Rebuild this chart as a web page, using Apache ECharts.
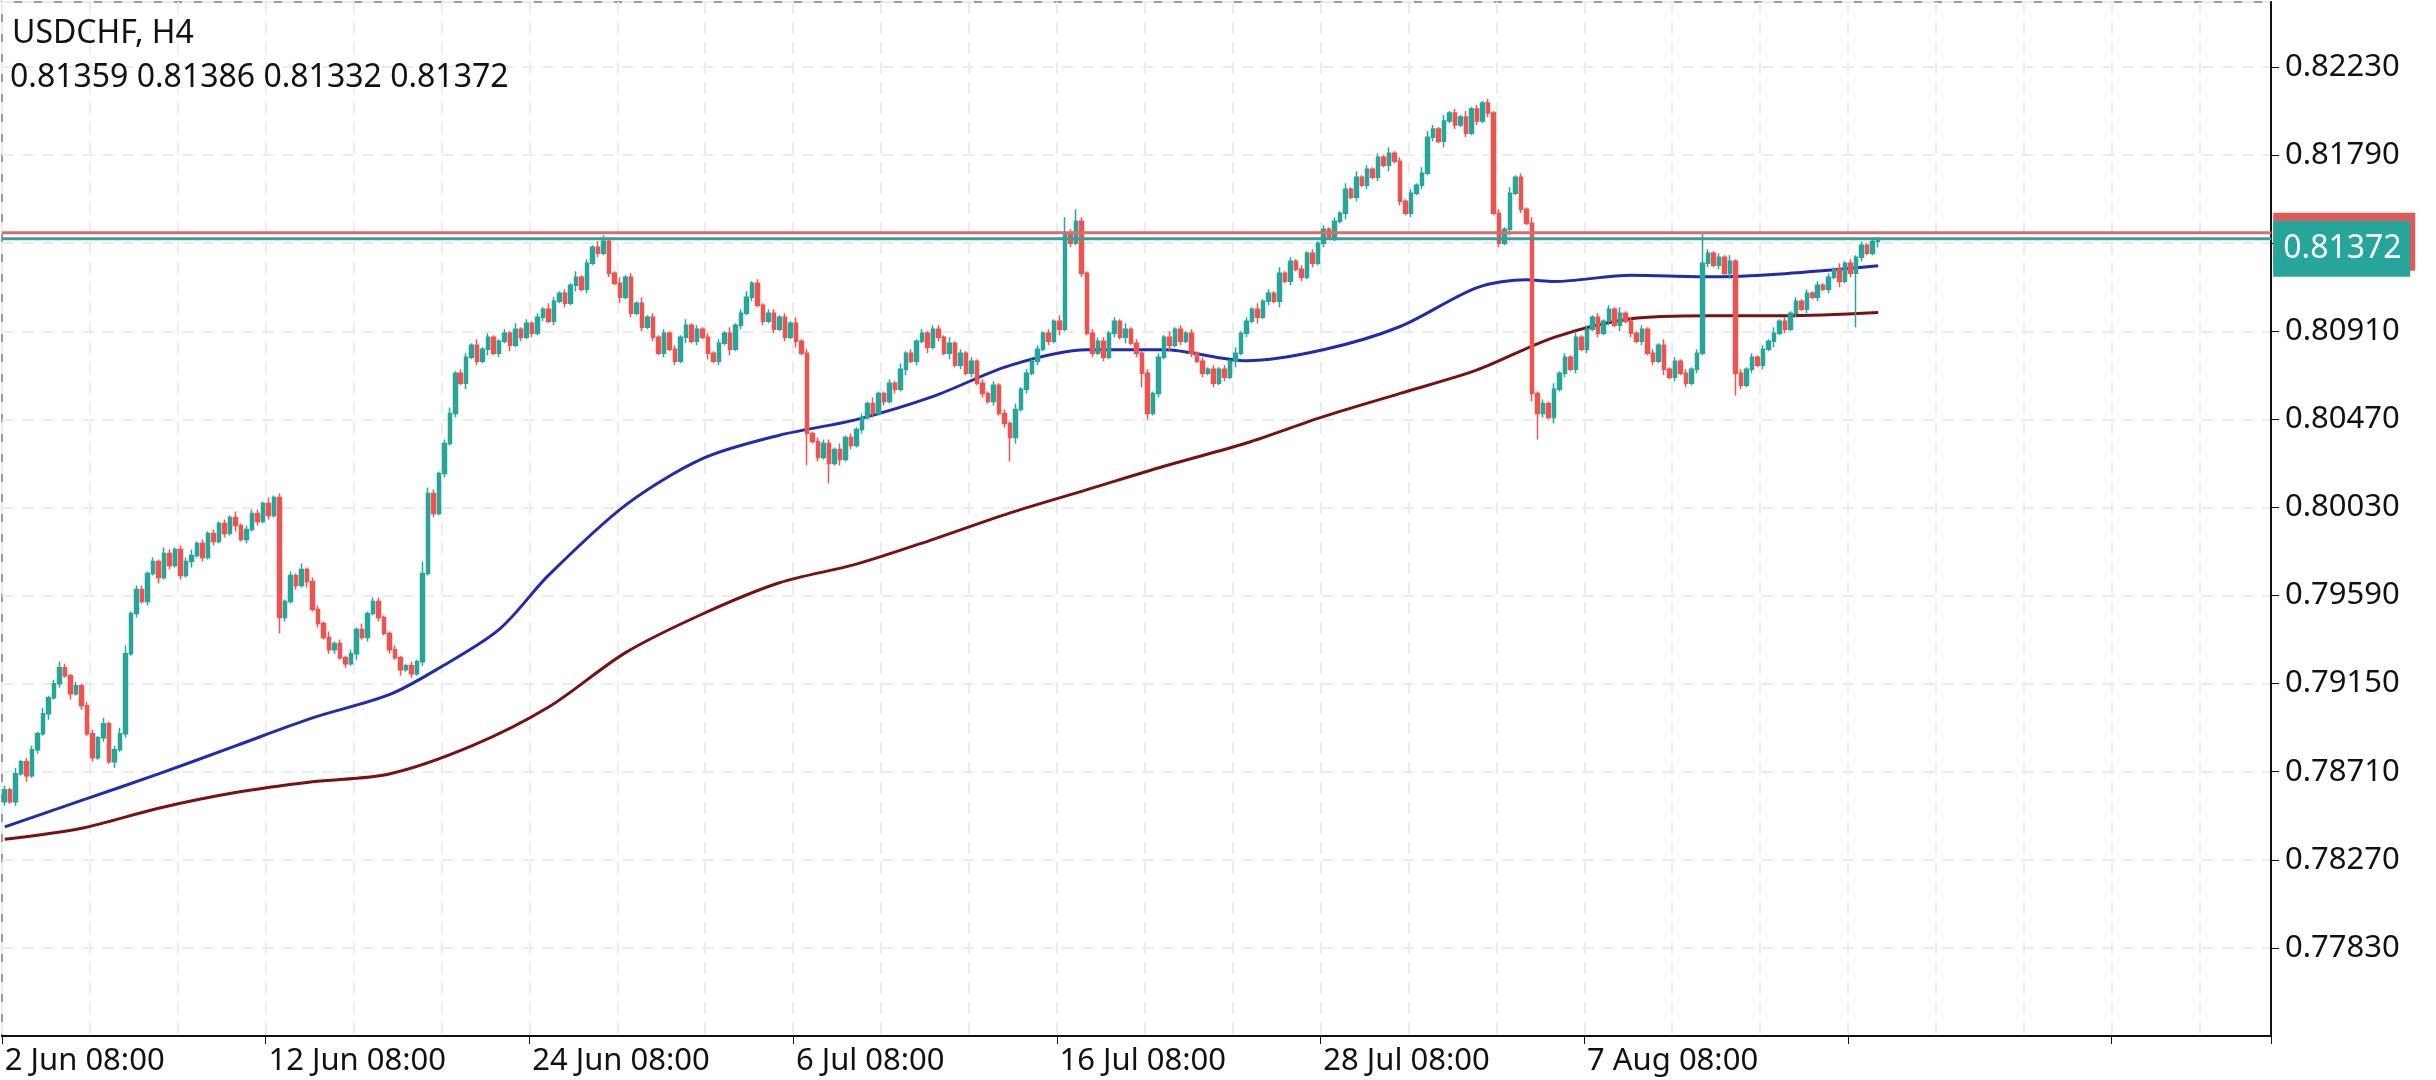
<!DOCTYPE html>
<html>
<head>
<meta charset="utf-8">
<script src="https://cdn.jsdelivr.net/npm/echarts@6/dist/echarts.min.js"></script>
<style>
  html, body { margin: 0; padding: 0; background: #fff; }
  #chart-container { width: 2436px; height: 1080px; }
</style>
</head>
<body>
<div id="chart-container"></div>
<script>
// prices in 1e-5 above 0.78000
var closes = [
  620, 560, 700, 760, 690, 820, 900, 1000, 1080, 1150,
  1230, 1190, 1100, 1140, 1040, 900, 780, 880, 950, 760,
  820, 900, 1300, 1500, 1620, 1560, 1700, 1760, 1680, 1800,
  1740, 1820, 1690, 1760, 1790, 1850, 1780, 1900, 1860, 1950,
  1900, 1980, 1940, 1870, 1920, 2000, 1960, 2050, 1990, 2080,
  1480, 1560, 1690, 1640, 1720, 1660, 1520, 1450, 1380, 1320,
  1350, 1280, 1250, 1300, 1420, 1380, 1500, 1560, 1480, 1400,
  1320, 1280, 1220, 1240, 1200, 1260, 1700, 2100, 2000, 2200,
  2350, 2500, 2700, 2650, 2780, 2840, 2760, 2820, 2880, 2800,
  2860, 2900, 2840, 2920, 2880, 2950, 2900, 2980, 3020, 2960,
  3060, 3100, 3050, 3140, 3180, 3120, 3250, 3330, 3300, 3360,
  3200, 3150, 3080, 3180, 3000, 3050, 2930, 2980, 2880, 2800,
  2900, 2820, 2760, 2880, 2940, 2860, 2920, 2880, 2800, 2760,
  2850, 2900, 2820, 2940, 3000, 3080, 3150, 3040, 2960, 3000,
  2920, 2980, 2880, 2950, 2860, 2800, 2400, 2360, 2280, 2350,
  2250, 2320, 2270, 2380, 2340, 2420, 2480, 2550, 2500, 2600,
  2560, 2650, 2620, 2720, 2800, 2760, 2860, 2900, 2830, 2920,
  2880, 2800, 2850, 2740, 2800, 2700, 2760, 2650, 2600, 2560,
  2640, 2500, 2450, 2380, 2520, 2620, 2700, 2760, 2820, 2900,
  2860, 2960, 2920, 3400, 3350, 3460, 3200, 2900, 2800, 2860,
  2780, 2900, 2960, 2880, 2920, 2850, 2800, 2700, 2500, 2600,
  2780, 2880, 2840, 2920, 2860, 2900, 2800, 2760, 2700, 2720,
  2650, 2720, 2680, 2760, 2800, 2900, 2960, 3020, 2980, 3060,
  3100, 3060, 3200, 3160, 3260, 3220, 3180, 3300, 3250, 3350,
  3420, 3380, 3460, 3500, 3620, 3580, 3680, 3640, 3720, 3680,
  3780, 3740, 3800, 3760, 3560, 3500, 3600, 3640, 3700, 3880,
  3920, 3860, 3960, 4000, 3940, 3980, 3900, 4020, 3960, 4050,
  4000, 3500, 3350, 3420, 3600, 3680, 3520, 3450, 2600, 2500,
  2550, 2480, 2620, 2700, 2780, 2720, 2880, 2820, 2920, 2980,
  2900, 2960, 3020, 2940, 3000, 2960, 2900, 2860, 2920, 2800,
  2760, 2840, 2720, 2680, 2760, 2700, 2650, 2720, 2800, 3250,
  3300, 3240, 3280, 3200, 3260, 2700, 2640, 2720, 2780, 2740,
  2820, 2860, 2900, 2960, 2920, 3000, 3060, 3020, 3100, 3080,
  3140, 3120, 3180, 3220, 3160, 3250, 3200, 3280, 3340, 3300,
  3359, 3372
];
var firstOpen = 560;
// wick lengths, one base36 char per candle, in 1e-4
var upWicks = '2131221312 3212122131 2341221213 2122312121 2131222131 2121312213 1212131221 1211216321 2312213121 1213121213 ' +
  '2121312133 2131213121 2121312121 2131231212 2121312122 2131212131 1213121212 2131212121 2121312121 2138262122 ' +
  '2121312121 2131212121 2121312131 2131212121 2121313121 2131212133 2131213121 2121312131 2131213121 2121312121 ' +
  '213121212f 2121312121 2131212121 2121312121 11';
var lowWicks = '2121312131 2131212121 3121212131 2121312121 2131212121 8212131212 2121312121 2131212121 2121312131 2131212121 ' +
  '2121312121 2131212121 2121312131 2131212121 212131g121 a131212121 2121312131 2131212121 212c312121 2131212121 ' +
  '2121312731 2131212121 2121312131 2131212121 2121312121 2131212121 2131212121 212131214d 2131212121 2121312121 ' +
  '2131212121 21213b2121 2131212121 2121312r21 13';

var blueIdx = [0, 14, 28, 42, 56, 70, 79, 90, 99, 113, 127, 141, 155, 169, 183, 197, 211, 226, 240, 254, 268, 277, 282, 296, 310, 324, 341];
var blueMA = [435, 567, 699, 839, 979, 1095, 1227, 1421, 1692, 2042, 2274, 2391, 2469, 2585, 2740, 2818, 2818, 2763, 2818, 2934, 3128, 3167, 3159, 3190, 3182, 3198, 3237];
var redIdx = [0, 14, 28, 42, 56, 70, 85, 99, 113, 127, 141, 155, 169, 183, 197, 211, 226, 240, 254, 268, 282, 296, 310, 324, 341];
var redMA = [373, 428, 528, 606, 660, 699, 839, 1033, 1305, 1498, 1654, 1747, 1871, 2003, 2119, 2236, 2352, 2484, 2600, 2717, 2880, 2973, 2988, 2988, 3004];

var tickLabels = ['2 Jun 08:00', '12 Jun 08:00', '24 Jun 08:00', '6 Jul 08:00', '16 Jul 08:00', '28 Jul 08:00', '7 Aug 08:00'];
var slotCount = 413;
var bidPrice = 0.81372;
var askPrice = 0.81402;
var ohlcText = '0.81359 0.81386 0.81332 0.81372';

var BASE = 0.7739; // axis offset so that ticks fall on 0.0044 multiples
function toAxis(u) { return u * 1e-5 + 0.78 - BASE; }

var up = upWicks.replace(/ /g, '');
var lo = lowWicks.replace(/ /g, '');
var candles = [];
for (var i = 0; i < closes.length; i++) {
  var o = i === 0 ? firstOpen : closes[i - 1];
  var c = closes[i];
  var h = Math.max(o, c) + parseInt(up[i], 36) * 10;
  var l = Math.min(o, c) - parseInt(lo[i], 36) * 10;
  candles.push([toAxis(o), toAxis(c), toAxis(l), toAxis(h)]);
}
var cats = [];
for (var k = 0; k < slotCount; k++) cats.push(k % 48 === 0 ? (tickLabels[k / 48] || '') : '');

var blueData = blueIdx.map(function (x, j) { return [x, toAxis(blueMA[j])]; });
var redData = redIdx.map(function (x, j) { return [x, toAxis(redMA[j])]; });

var chartDom = document.getElementById('chart-container');
var myChart = echarts.init(chartDom);
var font = 'Noto Sans';

var option = {
  animation: false,
  textStyle: { fontFamily: font },
  grid: { left: 2, right: 165, top: 2, bottom: 44, show: true, borderColor: '#9a9a9a', borderWidth: 2 },
  xAxis: {
    type: 'category',
    data: cats,
    axisLine: { lineStyle: { color: '#111', width: 2 } },
    axisTick: { show: true, length: 8, interval: function (i) { return i % 48 === 0; }, lineStyle: { color: '#111' } },
    axisLabel: {
      interval: function (i) { return i % 48 === 0; },
      align: 'left', margin: 10, fontSize: 31, color: '#111', fontFamily: font
    },
    splitLine: { show: true, interval: function (i) { return i % 16 === 0; }, lineStyle: { color: '#ececec', type: [12, 8], width: 2 } }
  },
  yAxis: {
    type: 'value',
    position: 'right',
    min: 0,
    max: 0.05165,
    interval: 0.0044,
    axisLine: { show: true, lineStyle: { color: '#111', width: 2 } },
    axisTick: { show: true, length: 8, lineStyle: { color: '#111' } },
    axisLabel: {
      margin: 14, fontSize: 31, color: '#111', fontFamily: font,
      showMinLabel: false, showMaxLabel: false,
      formatter: function (v) {
        var p = v + BASE;
        if (Math.abs(p - 0.8135) < 1e-6 || p < 0.775 || p > 0.825) return '';
        return p.toFixed(5);
      }
    },
    splitLine: { show: true, lineStyle: { color: '#ececec', type: [12, 8], width: 2 } }
  },
  series: [
    {
      type: 'candlestick',
      data: candles,
      barWidth: 4,
      z: 4,
      itemStyle: { color: '#26a69a', color0: '#ef5350', borderColor: '#26a69a', borderColor0: '#ef5350', borderWidth: 1.5 }
    },
    { type: 'line', data: blueData, showSymbol: false, smooth: 0.3, lineStyle: { color: '#1f2bb0', width: 3 }, z: 3 },
    { type: 'line', data: redData, showSymbol: false, smooth: 0.3, lineStyle: { color: '#7a1010', width: 3 }, z: 3 }
  ]
};

option && myChart.setOption(option);

// price lines and the price box, placed through the axis scale
var yAsk = myChart.convertToPixel({ yAxisIndex: 0 }, askPrice - BASE);
var yBid = myChart.convertToPixel({ yAxisIndex: 0 }, bidPrice - BASE);
var xEnd = myChart.convertToPixel({ xAxisIndex: 0 }, slotCount - 1) + 3;
myChart.setOption({
  graphic: [
    { type: 'text', left: 12, top: 18, style: { text: 'USDCHF, H4', font: '32px ' + font, fill: '#111' } },
    { type: 'text', left: 10, top: 62, style: { text: ohlcText, font: '32px ' + font, fill: '#111' } },
    { type: 'line', shape: { x1: 2, y1: yAsk, x2: xEnd, y2: yAsk }, style: { stroke: '#d96b6b', lineWidth: 3 }, z: 10 },
    { type: 'line', shape: { x1: 2, y1: yBid, x2: xEnd, y2: yBid }, style: { stroke: '#3a9e96', lineWidth: 3 }, z: 10 },
    { type: 'rect', shape: { x: xEnd + 2, y: yAsk - 20, width: 142, height: 58 }, style: { fill: '#e05a5a' }, z: 11 },
    { type: 'rect', shape: { x: xEnd + 2, y: yBid - 18, width: 137, height: 56 }, style: { fill: '#26a69a' }, z: 12 },
    { type: 'text', x: xEnd + 12, y: yBid + 10, style: { text: bidPrice.toFixed(5), font: '32px ' + font, fill: '#fff', verticalAlign: 'middle' }, z: 13 }
  ]
});
</script>
</body>
</html>
